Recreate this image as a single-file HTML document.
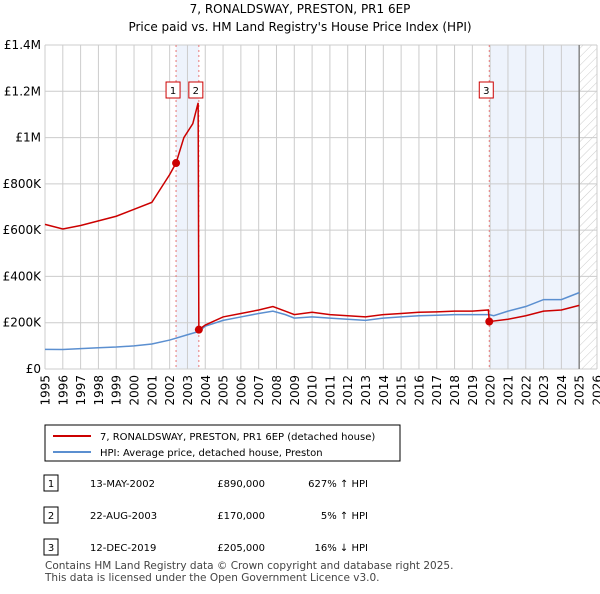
<!DOCTYPE html>
<html><head><meta charset="utf-8"><style>
body{margin:0;background:#fff;font-family:"DejaVu Sans",sans-serif}
svg text{font-family:"DejaVu Sans",sans-serif}
</style></head><body>
<svg id="c" width="600" height="590" xmlns="http://www.w3.org/2000/svg">
<defs><pattern id="h" width="6" height="6" patternUnits="userSpaceOnUse" patternTransform="rotate(45)"><line x1="0" y1="0" x2="0" y2="6" stroke="#ccc" stroke-width="1"/></pattern></defs>
<text x="300" y="13" text-anchor="middle" font-size="12">7, RONALDSWAY, PRESTON, PR1 6EP</text>
<text x="300" y="31" text-anchor="middle" font-size="12">Price paid vs. HM Land Registry's House Price Index (HPI)</text>
<g id="plot"></g>
<rect x="45" y="425" width="355" height="36" fill="#fff" stroke="#000"/>
<line x1="53" y1="436" x2="91" y2="436" stroke="#cc0000" stroke-width="2"/>
<text x="100" y="440" font-size="10">7, RONALDSWAY, PRESTON, PR1 6EP (detached house)</text>
<line x1="53" y1="452" x2="91" y2="452" stroke="#5b8fd0" stroke-width="2"/>
<text x="100" y="456" font-size="10">HPI: Average price, detached house, Preston</text>
<g font-size="10">
<rect x="44" y="475" width="14" height="16" fill="none" stroke="#000"/><text x="51" y="487" text-anchor="middle">1</text>
<text x="90" y="487">13-MAY-2002</text><text x="265" y="487" text-anchor="end">£890,000</text><text x="368" y="487" text-anchor="end">627% ↑ HPI</text>
<rect x="44" y="507" width="14" height="16" fill="none" stroke="#000"/><text x="51" y="519" text-anchor="middle">2</text>
<text x="90" y="519">22-AUG-2003</text><text x="265" y="519" text-anchor="end">£170,000</text><text x="368" y="519" text-anchor="end">5% ↑ HPI</text>
<rect x="44" y="539" width="14" height="16" fill="none" stroke="#000"/><text x="51" y="551" text-anchor="middle">3</text>
<text x="90" y="551">12-DEC-2019</text><text x="265" y="551" text-anchor="end">£205,000</text><text x="368" y="551" text-anchor="end">16% ↓ HPI</text>
</g>
<text x="45" y="569" font-size="10.5" fill="#444">Contains HM Land Registry data © Crown copyright and database right 2025.</text>
<text x="45" y="581" font-size="10.5" fill="#444">This data is licensed under the Open Government Licence v3.0.</text>
</svg>
<script>
const hpiYears=[1995,1996,1997,1998,1999,2000,2001,2002,2003,2003.64,2004,2005,2006,2007,2007.8,2008.5,2009,2010,2011,2012,2013,2014,2015,2016,2017,2018,2019,2019.95,2020.2,2021,2022,2023,2024,2025];
const hpiValues=[85,84,88,92,95,100,108,125,148,162,185,210,225,240,250,235,220,225,220,215,210,220,225,230,232,235,235,235,230,250,270,300,300,330];
const priceYears=[1995,1996,1997,1998,1999,2000,2001,2001.5,2002,2002.36,2002.8,2003.3,2003.6,2003.64,2004,2005,2006,2007,2007.8,2008.5,2009,2010,2011,2012,2013,2014,2015,2016,2017,2018,2019,2019.9,2019.95,2021,2022,2023,2024,2025];
const priceValues=[625,605,620,640,660,690,720,780,840,890,1000,1060,1150,170,190,225,240,255,270,250,235,245,235,230,225,235,240,245,247,250,250,255,205,215,230,250,255,275];
const saleYears=[2002.36,2003.64,2019.95];
const saleValues=[890,170,205];
const saleLabels=["1","2","3"];
const yTicks=[0,200,400,600,800,1000,1200,1400];
const yTickLabels=["£0","£200K","£400K","£600K","£800K","£1M","£1.2M","£1.4M"];
const NS="http://www.w3.org/2000/svg";
const X0=45,X1=597,Y0=369,Y1=45;
const xs=y=>X0+(y-1995)/(2026-1995)*(X1-X0);
const ys=v=>Y0-v/1400*(Y0-Y1);
const g=document.getElementById('plot');
function mk(t,a){const e=document.createElementNS(NS,t);for(const k in a)e.setAttribute(k,a[k]);g.appendChild(e);return e;}
let e;
e=mk('rect',{x:xs(saleYears[0]),y:Y1,width:xs(saleYears[1])-xs(saleYears[0]),height:Y0-Y1,fill:'#eef3fc'});


e=mk('rect',{x:xs(saleYears[2]),y:Y1,width:xs(2025)-xs(saleYears[2]),height:Y0-Y1,fill:'#eef3fc'});


e=mk('rect',{x:xs(2025),y:Y1,width:X1-xs(2025),height:Y0-Y1,fill:'url(#h)'});


for(let y=1995;y<=2026;y++){
 e=mk('line',{x1:xs(y),x2:xs(y),y1:Y1,y2:Y0,stroke:'#ccc'});
 
 
 e=mk('text',{x:0,y:0,'text-anchor':'end','font-size':12,transform:'translate('+(xs(y)+4.5)+','+(Y0+6)+') rotate(-90)'});e.textContent=y;
 
 
}
yTicks.forEach((v,i)=>{
 e=mk('line',{x1:X0,x2:X1,y1:ys(v),y2:ys(v),stroke:'#ccc'});
 
 
 e=mk('text',{x:X0-4,y:ys(v)+4,'text-anchor':'end','font-size':12});e.textContent=yTickLabels[i];
 
 
});
e=mk('line',{x1:xs(2025),x2:xs(2025),y1:Y1,y2:Y0,stroke:'#888','stroke-width':1.5});


saleYears.forEach(y=>{
 e=mk('line',{x1:xs(y),x2:xs(y),y1:Y1,y2:Y0,stroke:'#e87878','stroke-dasharray':'2,3'});
 
 
});
e=mk('polyline',{points:hpiYears.map((y,i)=>xs(y)+','+ys(hpiValues[i])).join(' '),fill:'none',stroke:'#5b8fd0','stroke-width':1.5});


e=mk('polyline',{points:priceYears.map((y,i)=>xs(y)+','+ys(priceValues[i])).join(' '),fill:'none',stroke:'#cc0000','stroke-width':1.5});


saleYears.forEach((y,i)=>{
 e=mk('circle',{cx:xs(y),cy:ys(saleValues[i]),r:4,fill:'#cc0000'});
 
 
 const bx=xs(y)-3-7;
 e=mk('rect',{x:bx,y:82,width:14,height:16,fill:'#fff',stroke:'#cc0000'});
 
 
 e=mk('text',{x:bx+7,y:94,'text-anchor':'middle','font-size':10});e.textContent=saleLabels[i];
 
 
});
</script>
</body></html>
